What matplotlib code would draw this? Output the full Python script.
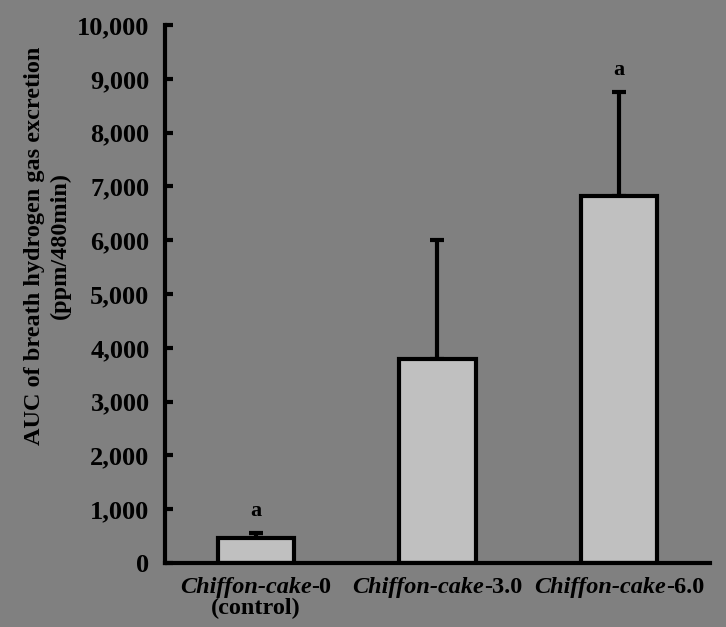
import matplotlib
matplotlib.use("Agg")
import matplotlib.pyplot as plt
from matplotlib.offsetbox import TextArea, HPacker, VPacker, AnnotationBbox
from matplotlib.ticker import FuncFormatter

# data
groups = ["Chiffon-cake", "Chiffon-cake", "Chiffon-cake"]
suffixes = ["-0", "-3.0", "-6.0"]
sublabels = ["(control)", "", ""]
auc_mean = [470, 3800, 6830]
auc_sd = [80, 2200, 1920]
letters = ["a", "", "a"]
y_ticks = list(range(0, 10001, 1000))

bg = "#808080"
plt.rcParams["font.family"] = ["Liberation Serif", "DejaVu Serif"]
plt.rcParams["font.weight"] = "bold"

fig = plt.figure(figsize=(7.26, 6.27), dpi=100, facecolor=bg)
ax = fig.add_axes([0.227, 0.102, 0.751, 0.858])
ax.set_facecolor(bg)

x = list(range(len(auc_mean)))
ax.bar(x, auc_mean, width=0.42, color="#c0c0c0", edgecolor="black", linewidth=3, zorder=2)
ax.errorbar(x, auc_mean, yerr=[[0] * len(auc_sd), auc_sd], fmt="none",
            ecolor="black", elinewidth=3, capsize=5, capthick=3, zorder=1)

for xi, m, s, l in zip(x, auc_mean, auc_sd, letters):
    if l:
        ax.text(xi, m + s + 230, l, ha="center", va="bottom", fontsize=16, fontweight="bold")

ax.set_xlim(-0.5, 2.5)
ax.set_ylim(0, 10000)
ax.set_yticks(y_ticks)
ax.yaxis.set_major_formatter(FuncFormatter(lambda v, p: f"{int(v):,}"))
ax.tick_params(axis="y", direction="in", length=6, width=3, pad=11, labelsize=19)
ax.tick_params(axis="x", length=0, labelbottom=False)
for lab in ax.get_yticklabels():
    lab.set_fontweight("bold")

for side in ["top", "right"]:
    ax.spines[side].set_visible(False)
for side in ["left", "bottom"]:
    ax.spines[side].set_linewidth(3)

ax.set_ylabel("AUC of breath hydrogen gas excretion\n(ppm/480min)",
              fontsize=17.5, fontweight="bold", linespacing=1.3)
ax.yaxis.set_label_coords(-0.172, 0.59)

# category labels: italic name + upright number
for xi, g, sfx, sub in zip(x, groups, suffixes, sublabels):
    row = HPacker(children=[
        TextArea(g, textprops=dict(fontsize=17.5, fontweight="bold", fontstyle="italic")),
        TextArea(sfx, textprops=dict(fontsize=17.5, fontweight="bold")),
    ], pad=0, sep=0, align="baseline")
    kids = [row]
    if sub:
        kids.append(TextArea(sub, textprops=dict(fontsize=17.5, fontweight="bold")))
    box = VPacker(children=kids, pad=0, sep=0, align="center")
    ab = AnnotationBbox(box, (xi, 0), xycoords=("data", "axes fraction"),
                        xybox=(0, -10), boxcoords="offset points",
                        box_alignment=(0.5, 1.0), frameon=False)
    ax.add_artist(ab)

fig.savefig("out.png", dpi=100, facecolor=bg)
